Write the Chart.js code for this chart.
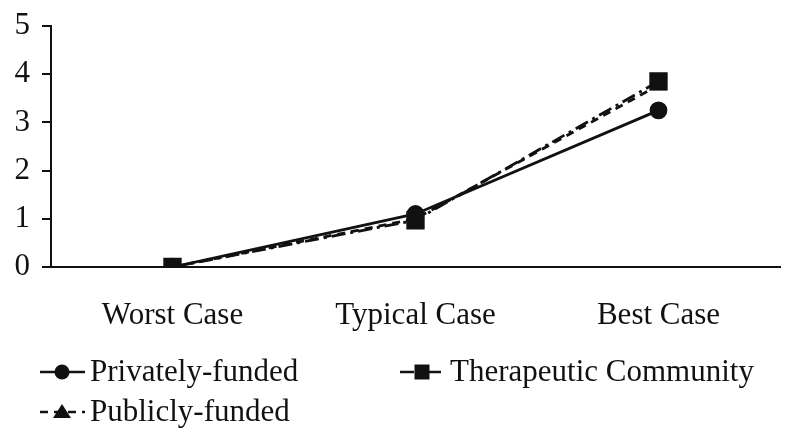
<!DOCTYPE html>
<html>
<head>
<meta charset="utf-8">
<script src="https://cdn.jsdelivr.net/npm/chart.js@4.4.0/dist/chart.umd.min.js"></script>
<style>
  html, body { margin: 0; padding: 0; background: #fff; }
  #wrap { width: 797px; height: 447px; position: relative; }
</style>
</head>
<body>
<div id="wrap"><canvas id="lineChart"></canvas></div>
<script>
const categories = ['Worst Case', 'Typical Case', 'Best Case'];
const privatelyFunded = [0, 1.1, 3.25];
const therapeuticCommunity = [0, 0.97, 3.85];
const publiclyFunded = [0, 1.0, 3.77];
const yTicks = [0, 1, 2, 3, 4, 5];

const INK = '#111';
const FONT = "'Liberation Serif', 'Times New Roman', serif";

// legend drawn by hand: line sample + marker + label, two columns
const legendPlugin = {
    id: 'sampleLegend',
    afterDraw(chart) {
        const ctx = chart.ctx;
        const spots = [
            { x: 40, y: 372 },
            { x: 400, y: 372 },
            { x: 40, y: 412 }
        ];
        chart.data.datasets.forEach((ds, i) => {
            const p = spots[i];
            ctx.save();
            ctx.strokeStyle = INK;
            ctx.lineWidth = 2.5;
            ctx.setLineDash(ds.borderDash || []);
            ctx.beginPath();
            ctx.moveTo(p.x, p.y);
            ctx.lineTo(p.x + 45, p.y);
            ctx.stroke();
            ctx.setLineDash([]);
            drawMarker(ctx, ds.pointStyle, p.x + 22, p.y);
            ctx.fillStyle = INK;
            ctx.font = '31px ' + FONT;
            ctx.textBaseline = 'middle';
            ctx.textAlign = 'left';
            ctx.fillText(ds.label, p.x + 50, p.y + 1);
            ctx.restore();
        });
    }
};

function drawMarker(ctx, style, x, y) {
    ctx.fillStyle = INK;
    ctx.beginPath();
    if (style === 'circle') {
        ctx.arc(x, y, 7.5, 0, Math.PI * 2);
    } else if (style === 'rect') {
        ctx.rect(x - 7.5, y - 7.5, 15, 15);
    } else {
        ctx.moveTo(x, y - 8);
        ctx.lineTo(x + 9, y + 6);
        ctx.lineTo(x - 9, y + 6);
        ctx.closePath();
    }
    ctx.fill();
}

const ctx = document.getElementById('lineChart').getContext('2d');
new Chart(ctx, {
    type: 'line',
    data: {
        labels: categories,
        datasets: [
            {
                label: 'Privately-funded',
                data: privatelyFunded,
                borderColor: INK,
                backgroundColor: INK,
                borderWidth: 2.8,
                pointStyle: 'circle',
                pointRadius: 7.5,
                order: 1
            },
            {
                label: 'Therapeutic Community',
                data: therapeuticCommunity,
                borderColor: INK,
                backgroundColor: INK,
                borderWidth: 2.8,
                borderDash: [14, 5, 3, 5],
                pointStyle: 'rect',
                pointRadius: 11,
                order: 0
            },
            {
                label: 'Publicly-funded',
                data: publiclyFunded,
                borderColor: INK,
                backgroundColor: INK,
                borderWidth: 2.8,
                borderDash: [8, 6],
                pointStyle: 'triangle',
                pointRadius: 7,
                order: 2
            }
        ]
    },
    options: {
        responsive: true,
        maintainAspectRatio: false,
        animation: false,
        layout: {
            padding: { left: 0, top: 26, right: 17, bottom: 110 }
        },
        plugins: {
            legend: { display: false },
            tooltip: { enabled: false }
        },
        elements: {
            line: { tension: 0 },
            point: { borderWidth: 0 }
        },
        scales: {
            x: {
                offset: true,
                grid: { display: false, offset: true },
                border: { color: INK, width: 2 },
                ticks: {
                    color: INK,
                    font: { family: FONT, size: 31 },
                    padding: 22
                },
                afterFit(scale) { scale.height = 70; }
            },
            y: {
                min: 0,
                max: 5,
                afterBuildTicks(scale) {
                    scale.ticks = yTicks.map(v => ({ value: v }));
                },
                grid: {
                    drawOnChartArea: false,
                    color: INK,
                    lineWidth: 2,
                    tickLength: 9
                },
                border: { color: INK, width: 2 },
                ticks: {
                    color: INK,
                    font: { family: FONT, size: 31, lineHeight: 1 },
                    padding: 12
                },
                afterFit(scale) {
                    scale.width = 51;
                    scale.paddingTop = 0;
                }
            }
        }
    },
    plugins: [legendPlugin]
});
</script>
</body>
</html>
